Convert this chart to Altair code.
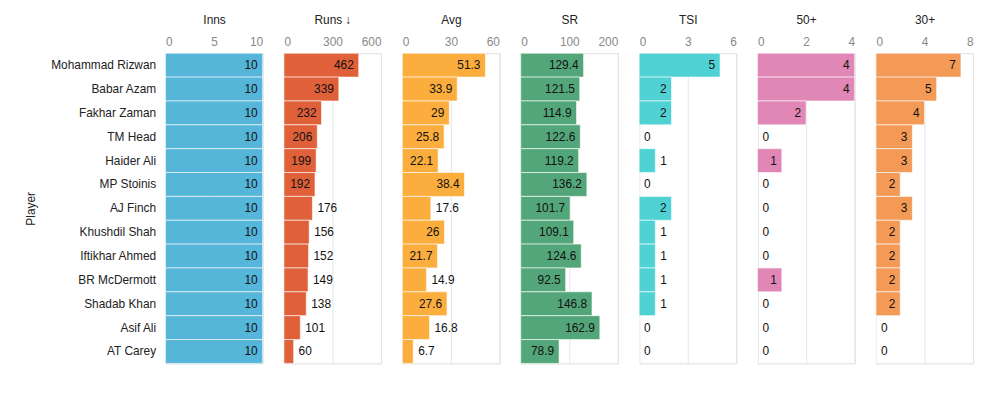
import altair as alt
import pandas as pd

players = ["Mohammad Rizwan", "Babar Azam", "Fakhar Zaman", "TM Head", "Haider Ali",
           "MP Stoinis", "AJ Finch", "Khushdil Shah", "Iftikhar Ahmed", "BR McDermott",
           "Shadab Khan", "Asif Ali", "AT Carey"]
inns = [10, 10, 10, 10, 10, 10, 10, 10, 10, 10, 10, 10, 10]
runs = [462, 339, 232, 206, 199, 192, 176, 156, 152, 149, 138, 101, 60]
avg = [51.3, 33.9, 29, 25.8, 22.1, 38.4, 17.6, 26, 21.7, 14.9, 27.6, 16.8, 6.7]
sr = [129.4, 121.5, 114.9, 122.6, 119.2, 136.2, 101.7, 109.1, 124.6, 92.5, 146.8, 162.9, 78.9]
tsi = [5, 2, 2, 0, 1, 0, 2, 1, 1, 1, 1, 0, 0]
fifties = [4, 4, 2, 0, 1, 0, 0, 0, 0, 1, 0, 0, 0]
thirties = [7, 5, 4, 3, 3, 2, 3, 2, 2, 2, 2, 0, 0]

# (key, title, values, domain max, ticks, colour)
metrics = [
    ("inns", "Inns", inns, 10, [0, 5, 10], "#55b6d9"),
    ("runs", "Runs ↓", runs, 600, [0, 300, 600], "#e0603a"),
    ("avg", "Avg", avg, 60, [0, 30, 60], "#fbad3d"),
    ("sr", "SR", sr, 200, [0, 100, 200], "#53a67a"),
    ("tsi", "TSI", tsi, 6, [0, 3, 6], "#50d2d4"),
    ("f50", "50+", fifties, 4, [0, 2, 4], "#e187b5"),
    ("f30", "30+", thirties, 8, [0, 4, 8], "#f29a56"),
]

W = 98
H = 313
FS = 12


def fmt(v):
    return str(int(v)) if float(v).is_integer() else str(v)


def text_w(s):
    return sum(3.3 if c == "." else 6.7 for c in s)


df = pd.DataFrame({"Player": players})
for key, title, vals, dmax, ticks, col in metrics:
    df[key] = vals
    df[key + "_in"] = [(v / dmax * W) >= text_w(fmt(v)) + 10 for v in vals]

panels = []
for i, (key, title, vals, dmax, ticks, col) in enumerate(metrics):
    if i == 0:
        yax = alt.Axis(title="Player", labelPadding=10, titlePadding=13, titleFontWeight="normal",
                       titleFontSize=FS, labelFontSize=FS, labelColor="#222", titleColor="#222",
                       domain=False, ticks=False)
    else:
        yax = None
    y = alt.Y("Player:N", sort=players, axis=yax, scale=alt.Scale(paddingInner=0, paddingOuter=0))
    x = alt.X(f"{key}:Q", scale=alt.Scale(domain=[0, dmax]),
              axis=alt.Axis(orient="top", title=title, values=ticks, labelFlush=True,
                            domain=False, ticks=False, tickSize=0, labelPadding=5,
                            labelColor="#888", labelFontSize=FS, titleFontSize=FS,
                            titleFontWeight="normal", titleColor="#222", titlePadding=9,
                            gridColor="#e2e6ea"))
    base = alt.Chart(df)
    bars = base.mark_bar(color=col, stroke="white", strokeWidth=1, strokeOpacity=0.6).encode(x=x, y=y)
    t_in = base.transform_filter(f"datum['{key}_in']").mark_text(
        align="right", dx=-5, fontSize=FS, color="#111").encode(
        x=alt.X(f"{key}:Q"), y=alt.Y("Player:N", sort=players), text=alt.Text(f"{key}:Q"))
    t_out = base.transform_filter(f"!datum['{key}_in']").mark_text(
        align="left", dx=5, fontSize=FS, color="#111").encode(
        x=alt.X(f"{key}:Q"), y=alt.Y("Player:N", sort=players), text=alt.Text(f"{key}:Q"))
    panels.append(alt.layer(bars, t_in, t_out).properties(width=W, height=H))

chart = alt.hconcat(*panels, spacing=19.5).properties(
    padding={"left": 16, "top": 3, "right": 5, "bottom": 5}
).configure_view(stroke=None).configure(font="Liberation Sans")

chart.save("out.html", embed_options={"renderer": "svg", "actions": False})
